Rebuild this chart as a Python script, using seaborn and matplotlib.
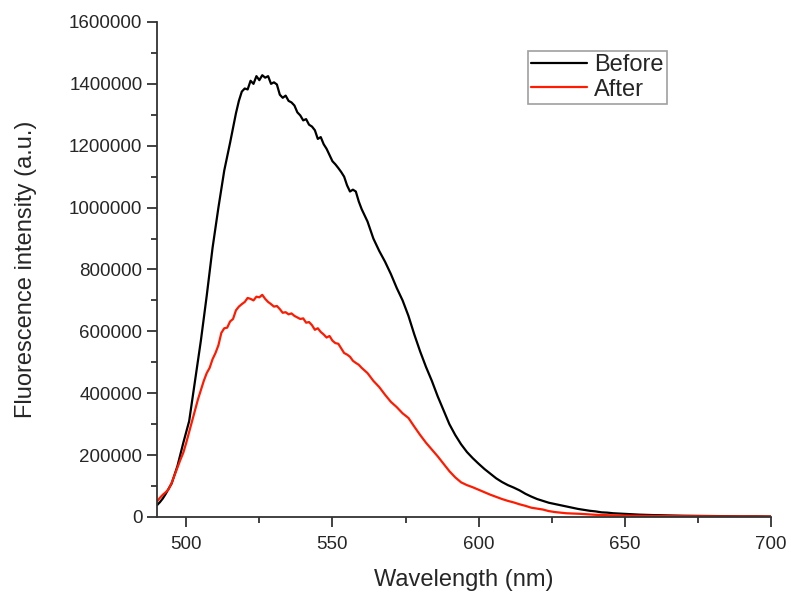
import matplotlib
matplotlib.use("Agg")
import matplotlib.pyplot as plt
from matplotlib.ticker import MultipleLocator
import numpy as np
import pandas as pd
import seaborn as sns

# emission spectra (wavelength in nm, intensity in a.u.)
before_wl = [490, 491, 492, 493, 494, 495, 497, 499, 501, 503, 505, 507, 509, 511, 513,
             515, 517, 518, 519, 520, 521, 522, 523, 524, 525, 526, 527, 528, 529, 530,
             531, 532, 533, 534, 535, 536, 537, 538, 539, 540, 541, 542, 543, 544, 545,
             546, 547, 548, 549, 550, 551, 552, 553, 554, 555, 556, 557, 558, 559, 560,
             562, 564, 566, 568, 570, 572, 574, 576, 578, 580, 582, 584, 586, 588, 590,
             592, 594, 596, 598, 600, 602, 604, 606, 608, 610, 612, 614, 616, 618, 620,
             622, 624, 626, 628, 630, 632, 634, 636, 638, 640, 642, 644, 646, 648, 650,
             655, 660, 665, 670, 675, 680, 685, 690, 695, 700]
before_int = [38000, 48000, 60000, 75000, 92000, 108000, 165000, 240000, 310000, 440000,
              570000, 715000, 870000, 1000000, 1120000, 1210000, 1305000, 1345000, 1375000,
              1385000, 1382000, 1410000, 1400000, 1425000, 1412000, 1428000, 1420000,
              1425000, 1400000, 1405000, 1398000, 1365000, 1355000, 1362000, 1345000,
              1340000, 1330000, 1308000, 1298000, 1282000, 1286000, 1268000, 1262000,
              1250000, 1222000, 1228000, 1205000, 1190000, 1170000, 1150000, 1140000,
              1128000, 1115000, 1100000, 1072000, 1052000, 1058000, 1052000, 1020000,
              995000, 955000, 900000, 860000, 825000, 785000, 740000, 700000, 650000,
              590000, 535000, 485000, 440000, 390000, 345000, 300000, 265000, 235000,
              210000, 190000, 172000, 155000, 140000, 125000, 113000, 103000, 95000,
              86000, 75000, 66000, 58000, 52000, 46000, 42000, 38000, 34000, 30000,
              26000, 23000, 20000, 18000, 15000, 14000, 12000, 11000, 10000, 7500, 6000,
              5000, 4000, 3500, 3000, 2500, 2000, 2000, 1500]

after_wl = [490, 491, 492, 493, 494, 495, 496, 497, 498, 499, 500, 501, 502, 503, 504,
            505, 506, 507, 508, 509, 510, 511, 512, 513, 514, 515, 516, 517, 518, 519,
            520, 521, 522, 523, 524, 525, 526, 527, 528, 529, 530, 531, 532, 533, 534,
            535, 536, 537, 538, 539, 540, 541, 542, 543, 544, 545, 546, 547, 548, 549,
            550, 551, 552, 553, 554, 555, 556, 557, 558, 559, 560, 562, 564, 566, 568,
            570, 572, 574, 576, 578, 580, 582, 584, 586, 588, 590, 592, 594, 596, 598,
            600, 602, 604, 606, 608, 610, 612, 614, 616, 618, 620, 622, 624, 626, 628,
            630, 635, 640, 645, 650, 660, 670, 680, 690, 700]
after_int = [50000, 62000, 72000, 80000, 90000, 110000, 135000, 160000, 185000, 208000,
             240000, 275000, 310000, 345000, 380000, 410000, 440000, 465000, 482000,
             510000, 530000, 555000, 595000, 610000, 612000, 632000, 640000, 668000,
             680000, 688000, 695000, 708000, 705000, 700000, 712000, 710000, 718000,
             705000, 695000, 688000, 680000, 682000, 672000, 660000, 662000, 655000,
             658000, 650000, 645000, 640000, 642000, 628000, 630000, 620000, 605000,
             610000, 598000, 590000, 580000, 585000, 570000, 562000, 560000, 545000,
             530000, 525000, 518000, 505000, 498000, 492000, 482000, 465000, 440000,
             420000, 395000, 372000, 355000, 335000, 320000, 292000, 265000, 240000,
             218000, 196000, 172000, 148000, 128000, 112000, 103000, 96000, 88000,
             80000, 72000, 65000, 58000, 52000, 47000, 41000, 36000, 30000, 27000,
             24000, 19000, 16000, 14000, 12000, 10000, 7000, 5500, 4500, 3000, 2500,
             2000, 1500, 1000]

df = pd.concat([
    pd.DataFrame({"wl": before_wl, "intensity": before_int, "sample": "Before"}),
    pd.DataFrame({"wl": after_wl, "intensity": after_int, "sample": "After"}),
])

sns.set_style("ticks")
plt.rcParams["font.family"] = ["Liberation Sans", "DejaVu Sans"]

fig = plt.figure(figsize=(7.91, 5.96), dpi=100)
ax = fig.add_axes([0.1985, 0.1326, 0.7762, 0.8305])

sns.lineplot(data=df, x="wl", y="intensity", hue="sample",
             palette={"Before": "black", "After": "#ff1a00"},
             linewidth=1.6, ax=ax, estimator=None, sort=False)

ax.set_xlim(490, 700)
ax.set_ylim(0, 1600000)
ax.xaxis.set_major_locator(MultipleLocator(50))
ax.xaxis.set_minor_locator(MultipleLocator(25))
ax.yaxis.set_major_locator(MultipleLocator(200000))
ax.yaxis.set_minor_locator(MultipleLocator(100000))
ax.ticklabel_format(axis="y", style="plain", useOffset=False)

for s in ["top", "right"]:
    ax.spines[s].set_visible(False)
for s in ["left", "bottom"]:
    ax.spines[s].set_linewidth(1.3)
    ax.spines[s].set_color("#333333")
ax.tick_params(which="major", length=7, width=1.3, color="#333333",
               labelsize=13.5, direction="out")
ax.tick_params(axis="x", which="major", pad=7)
ax.tick_params(which="minor", length=4, width=1.3, color="#333333", direction="out")

ax.set_xlabel("Wavelength (nm)", fontsize=17, labelpad=11)
ax.set_ylabel("Fluorescence intensity (a.u.)", fontsize=17, labelpad=23)

leg = ax.legend(loc="upper left", bbox_to_anchor=(0.604, 0.942), fontsize=17,
                frameon=True, fancybox=False, handlelength=2.35, handletextpad=0.3,
                borderpad=0.15, labelspacing=0.1, borderaxespad=0)
leg.get_frame().set_edgecolor("#888888")
leg.get_frame().set_linewidth(1.2)

fig.savefig("out.png", dpi=100)
